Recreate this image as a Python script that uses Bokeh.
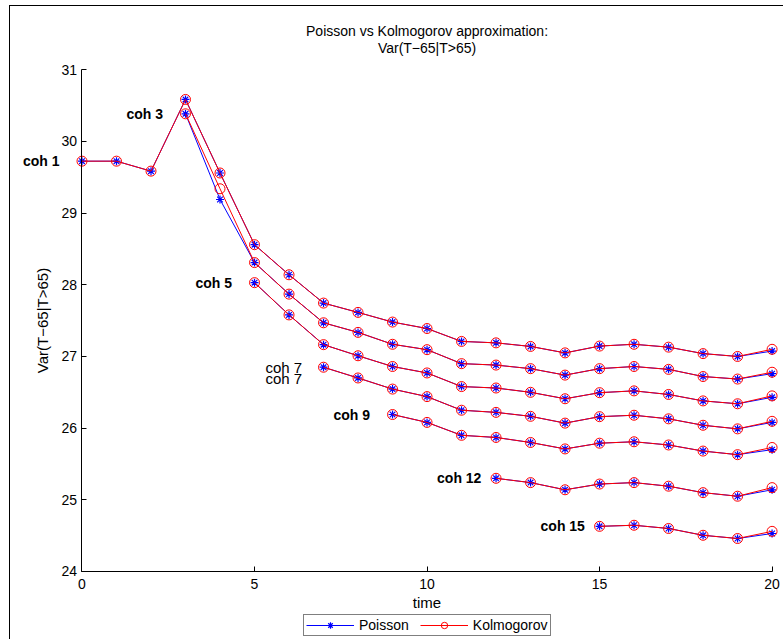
from bokeh.plotting import figure
from bokeh.models import (Range1d, Legend, LegendItem, ColumnDataSource, FixedTicker)
from bokeh.core.properties import value
from bokeh.embed import file_html
from bokeh.resources import INLINE

FONT = "Liberation Sans"

# cohort names and the time step at which each cohort enters
cohorts = ["coh 1", "coh 3", "coh 5", "coh 7", "coh 9", "coh 12", "coh 15"]
starts = [0, 3, 5, 7, 9, 12, 15]

# Var(T-65 | T>65) per cohort, Poisson approximation
poisson = {
    "coh 1": [29.725, 29.725, 29.586, 30.586, 29.56, 28.56, 28.14, 27.745, 27.615, 27.48,
              27.39, 27.21, 27.19, 27.14, 27.05, 27.145, 27.17, 27.13, 27.04, 27.00, 27.075],
    "coh 3": [30.386, 29.19, 28.31, 27.87, 27.47, 27.336, 27.17, 27.095, 26.90, 26.88,
              26.83, 26.74, 26.83, 26.86, 26.82, 26.72, 26.685, 26.76],
    "coh 5": [28.03, 27.58, 27.165, 27.01, 26.86, 26.77, 26.58, 26.56, 26.50, 26.41,
              26.495, 26.52, 26.47, 26.38, 26.34, 26.43],
    "coh 7": [26.85, 26.70, 26.545, 26.44, 26.25, 26.22, 26.165, 26.07, 26.16, 26.18,
              26.13, 26.04, 25.99, 26.08],
    "coh 9": [26.19, 26.08, 25.90, 25.87, 25.80, 25.71, 25.79, 25.81, 25.765, 25.68,
              25.63, 25.70],
    "coh 12": [25.30, 25.24, 25.14, 25.22, 25.24, 25.19, 25.10, 25.05, 25.14],
    "coh 15": [24.63, 24.645, 24.60, 24.505, 24.46, 24.53],
}

# same quantity, Kolmogorov approximation
kolmogorov = {
    "coh 1": [29.725, 29.725, 29.586, 30.586, 29.56, 28.56, 28.14, 27.745, 27.615, 27.48,
              27.39, 27.21, 27.19, 27.14, 27.05, 27.145, 27.17, 27.13, 27.04, 27.00, 27.10],
    "coh 3": [30.386, 29.34, 28.31, 27.87, 27.47, 27.336, 27.17, 27.095, 26.90, 26.88,
              26.83, 26.74, 26.83, 26.86, 26.82, 26.72, 26.685, 26.78],
    "coh 5": [28.03, 27.58, 27.165, 27.01, 26.86, 26.77, 26.58, 26.56, 26.50, 26.41,
              26.495, 26.52, 26.47, 26.38, 26.34, 26.45],
    "coh 7": [26.85, 26.70, 26.545, 26.44, 26.25, 26.22, 26.165, 26.07, 26.16, 26.18,
              26.13, 26.04, 25.99, 26.095],
    "coh 9": [26.19, 26.08, 25.90, 25.87, 25.80, 25.71, 25.79, 25.81, 25.765, 25.68,
              25.63, 25.73],
    "coh 12": [25.30, 25.24, 25.14, 25.22, 25.24, 25.19, 25.10, 25.05, 25.17],
    "coh 15": [24.63, 24.645, 24.60, 24.505, 24.46, 24.56],
}

x_ticks = [0, 5, 10, 15, 20]
y_ticks = [24, 25, 26, 27, 28, 29, 30, 31]
title_lines = ["Poisson vs Kolmogorov approximation:", "Var(T\u221265|T>65)"]

# The plotting frame fills the whole canvas; both axes sit at fixed data
# positions (time 0 and value 24) so labels left of / below them stay visible.
p = figure(width=774, height=634, output_backend="svg", toolbar_location=None,
           x_range=Range1d(-2.072, 20.36), y_range=Range1d(23.037, 31.883),
           title=None, min_border_left=0, min_border_right=0, min_border_top=0,
           min_border_bottom=0, background_fill_color="white",
           border_fill_color="white")
# figure border: left and top edges of the surrounding box
p.styles = {"margin-left": "9px", "margin-top": "5px",
            "border-left": "1px solid black", "border-top": "1px solid black"}
p.outline_line_color = None
p.grid.visible = False

p.xaxis.ticker = FixedTicker(ticks=x_ticks)
p.yaxis.ticker = FixedTicker(ticks=y_ticks)
p.xaxis.bounds = (0, 20)
p.yaxis.bounds = (24, 31)
p.xaxis.fixed_location = 24
p.yaxis.fixed_location = 0
p.xaxis.axis_label = "time"
p.yaxis.axis_label = "Var(T\u221265|T>65)"
for ax in (p.xaxis, p.yaxis):
    ax.axis_line_color = "black"
    ax.axis_line_width = 1
    ax.major_tick_line_color = "black"
    ax.major_tick_in = 5
    ax.major_tick_out = 0
    ax.minor_tick_line_color = None
    ax.major_label_text_font = FONT
    ax.major_label_text_font_size = "14px"
    ax.major_label_text_color = "black"
    ax.axis_label_text_font = FONT
    ax.axis_label_text_font_size = "15px"
    ax.axis_label_text_font_style = "normal"
    ax.axis_label_text_color = "black"
p.xaxis.major_label_standoff = 8
p.xaxis.axis_label_standoff = 1
p.yaxis.major_label_standoff = 5
p.yaxis.axis_label_standoff = 7

# two-line title centred over the time axis
p.text(x=[10, 10], y=[31, 31], y_offset=[-39, -22], text=title_lines,
       text_align="center", text_baseline="middle", text_font=value(FONT),
       text_font_size="14px", text_color="black")

legend_p, legend_k = [], []
for name, t0 in zip(cohorts, starts):
    t = list(range(t0, 21))
    src_p = ColumnDataSource(dict(t=t, v=poisson[name]))
    src_k = ColumnDataSource(dict(t=t, v=kolmogorov[name]))
    lp = p.line("t", "v", source=src_p, line_color="blue", line_width=1)
    sp = p.scatter("t", "v", source=src_p, marker="asterisk", size=8,
                   line_color="blue", line_width=1.2)
    lk = p.line("t", "v", source=src_k, line_color="red", line_width=1)
    sk = p.scatter("t", "v", source=src_k, marker="circle", size=10,
                   fill_color=None, line_color="red", line_width=1)
    if not legend_p:
        legend_p, legend_k = [lp, sp], [lk, sk]

# cohort labels, placed to the left of each cohort's first point
bold_names = [n for n in cohorts if n != "coh 7"]
lab_src = ColumnDataSource(dict(
    x=[s for n, s in zip(cohorts, starts) if n != "coh 7"],
    y=[poisson[n][0] for n in bold_names],
    text=bold_names))
p.text("x", "y", text="text", source=lab_src, x_offset=-59, text_align="left",
       text_baseline="middle", text_font=value(FONT), text_font_size="14px",
       text_font_style="bold", text_color="black")
c7_src = ColumnDataSource(dict(x=[7, 7], y=[poisson["coh 7"][0], poisson["coh 7"][0]],
                               dy=[0, 11], text=["coh 7", "coh 7"]))
p.text("x", "y", text="text", source=c7_src, x_offset=-58, y_offset="dy",
       text_align="left", text_baseline="middle", text_font=value(FONT),
       text_font_size="15px", text_color="black")

legend = Legend(items=[LegendItem(label="Poisson", renderers=legend_p),
                       LegendItem(label="Kolmogorov", renderers=legend_k)],
                location=(293, 4), orientation="horizontal",
                glyph_width=48, glyph_height=16, label_height=16, label_standoff=5,
                spacing=11, padding=2, margin=0, border_line_color="black",
                border_line_width=1, background_fill_color="white",
                background_fill_alpha=1, label_text_font=FONT,
                label_text_font_size="14px", label_text_color="black")
p.add_layout(legend)

open("out.html", "w").write(file_html(p, INLINE))
